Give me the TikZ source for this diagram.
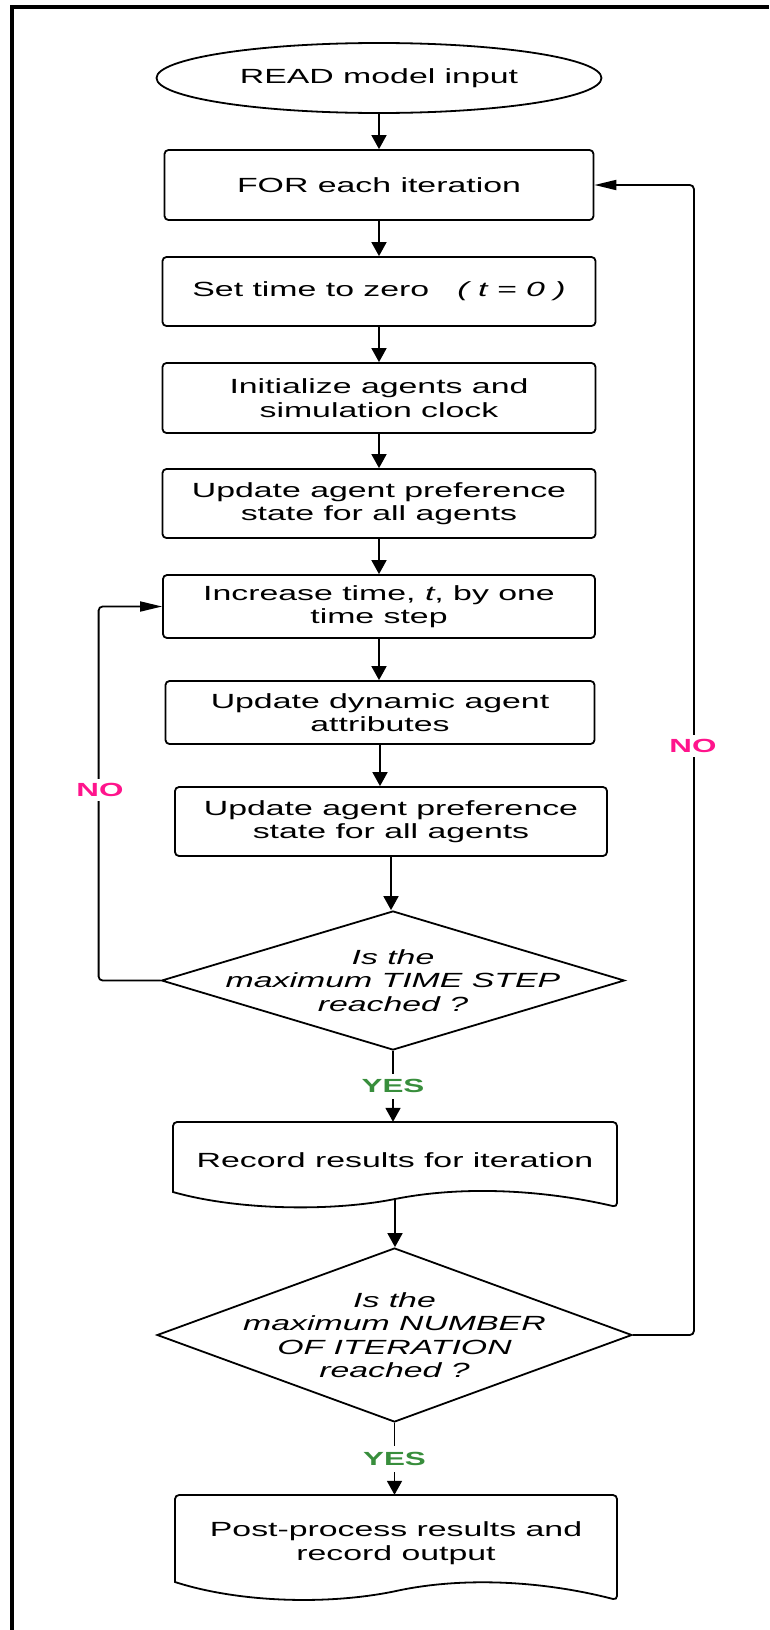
\documentclass[tikz,border=0pt]{standalone}
\usepackage{fontspec}
\setmainfont{Liberation Sans}[FakeStretch=1.65]
\usetikzlibrary{arrows.meta,shapes.geometric}
\definecolor{nocol}{RGB}{255,20,140}
\definecolor{yescol}{RGB}{56,142,60}
\begin{document}
\begin{tikzpicture}[x=1pt,y=-1pt,
  txt/.style={font=\fontsize{20.5pt}{23.5pt}\selectfont, align=center, inner sep=0pt},
  itxt/.style={font=\fontsize{20.5pt}{23.5pt}\selectfont\itshape, align=center, inner sep=0pt},
  box/.style={txt, draw, line width=1.8pt, rounded corners=4pt},
  dia/.style={diamond, draw, line width=1.8pt, inner sep=0pt},
  shp/.style={draw, line width=1.8pt},
  varr/.style={line width=1.8pt, -{Triangle[length=14pt,width=15pt]}},
  harr/.style={line width=1.8pt, rounded corners=4pt, -{Triangle[length=22pt,width=10pt]}},
  nolab/.style={font=\fontsize{19pt}{19pt}\selectfont\bfseries, text=nocol, fill=white, inner xsep=2pt, inner ysep=4pt},
  yeslab/.style={font=\fontsize{19pt}{19pt}\selectfont\bfseries, text=yescol, fill=white, inner xsep=2pt, inner ysep=6pt}
]
\useasboundingbox (0,0) rectangle (769,1630);
\draw[line width=4pt, line join=miter] (12,1630) -- (12,7) -- (769,7);

\node[ellipse, draw, line width=1.8pt, minimum width=445pt, minimum height=70pt, txt] (ell) at (379,78) {READ model input};
\node[box, minimum width=429pt, minimum height=70pt] (for) at (379,185) {FOR each iteration};
\node[box, minimum width=433pt, minimum height=69pt] (set) at (379,291.5) {Set time to zero\ \ \ {\itshape( t = 0 )}};
\node[box, minimum width=433pt, minimum height=70pt] (init) at (379,398) {Initialize agents and\\simulation clock};
\node[box, minimum width=433pt, minimum height=69pt] (pref1) at (379,503.5) {Update agent preference\\state for all agents};
\node[box, minimum width=432pt, minimum height=63pt] (inc) at (379,606.5) {Increase time, {\itshape t}, by one\\time step};
\node[box, minimum width=429pt, minimum height=63pt] (dyn) at (380,712.5) {Update dynamic agent\\attributes};
\node[box, minimum width=432pt, minimum height=69pt] (pref2) at (391,821.5) {Update agent preference\\state for all agents};

\node[dia, minimum width=463pt, minimum height=139pt] (d1) at (393,980.5) {};
\node[itxt] (d1t) at (d1.center) {Is the\\maximum TIME STEP\\reached ?};

\draw[shp, rounded corners=4pt] (173,1192) -- (173,1122) -- (617,1122) -- (617,1207) [sharp corners]
  .. controls (540,1189) and (460,1186) .. (395,1199)
  .. controls (330,1212) and (236,1210) .. (173,1192) -- cycle;
\node[txt, minimum width=444pt, minimum height=77pt] (rec) at (395,1160.5) {Record results for iteration};

\node[dia, minimum width=475pt, minimum height=174pt] (d2) at (394.5,1335) {};
\node[itxt] (d2t) at (d2.center) {Is the\\maximum NUMBER\\OF ITERATION\\reached ?};

\draw[shp, rounded corners=4pt] (175,1582) -- (175,1495) -- (617,1495) -- (617,1600) [sharp corners]
  .. controls (540,1580) and (460,1577) .. (396,1591)
  .. controls (330,1605) and (240,1603) .. (175,1582) -- cycle;
\node[txt, minimum width=442pt, minimum height=96pt] (post) at (396,1543) {Post-process results and\\record output};

\draw[varr] (ell.south) -- (ell.south |- for.north);
\draw[varr] (for.south) -- (for.south |- set.north);
\draw[varr] (set.south) -- (set.south |- init.north);
\draw[varr] (init.south) -- (init.south |- pref1.north);
\draw[varr] (pref1.south) -- (pref1.south |- inc.north);
\draw[varr] (inc.south) -- (inc.south |- dyn.north);
\draw[varr] (dyn.south) -- (dyn.south |- pref2.north);
\draw[varr] (pref2.south) -- (pref2.south |- d1.north);
\draw[varr] (d1.south) -- node[yeslab] (yes1) {YES} (d1.south |- rec.north);
\draw[varr] (rec.south) -- (rec.south |- d2.north);
\draw[varr] (d2.south) -- node[yeslab] (yes2) {YES} (d2.south |- post.north);

\draw[harr] (d1.west) -- ++(-62,0) |- (inc.west);
\draw[harr] (d2.east) -- ++(61,0) |- (for.east);
\node[nolab] (no1) at (100,790) {NO};
\node[nolab] (no2) at (693,746) {NO};
\end{tikzpicture}
\end{document}
